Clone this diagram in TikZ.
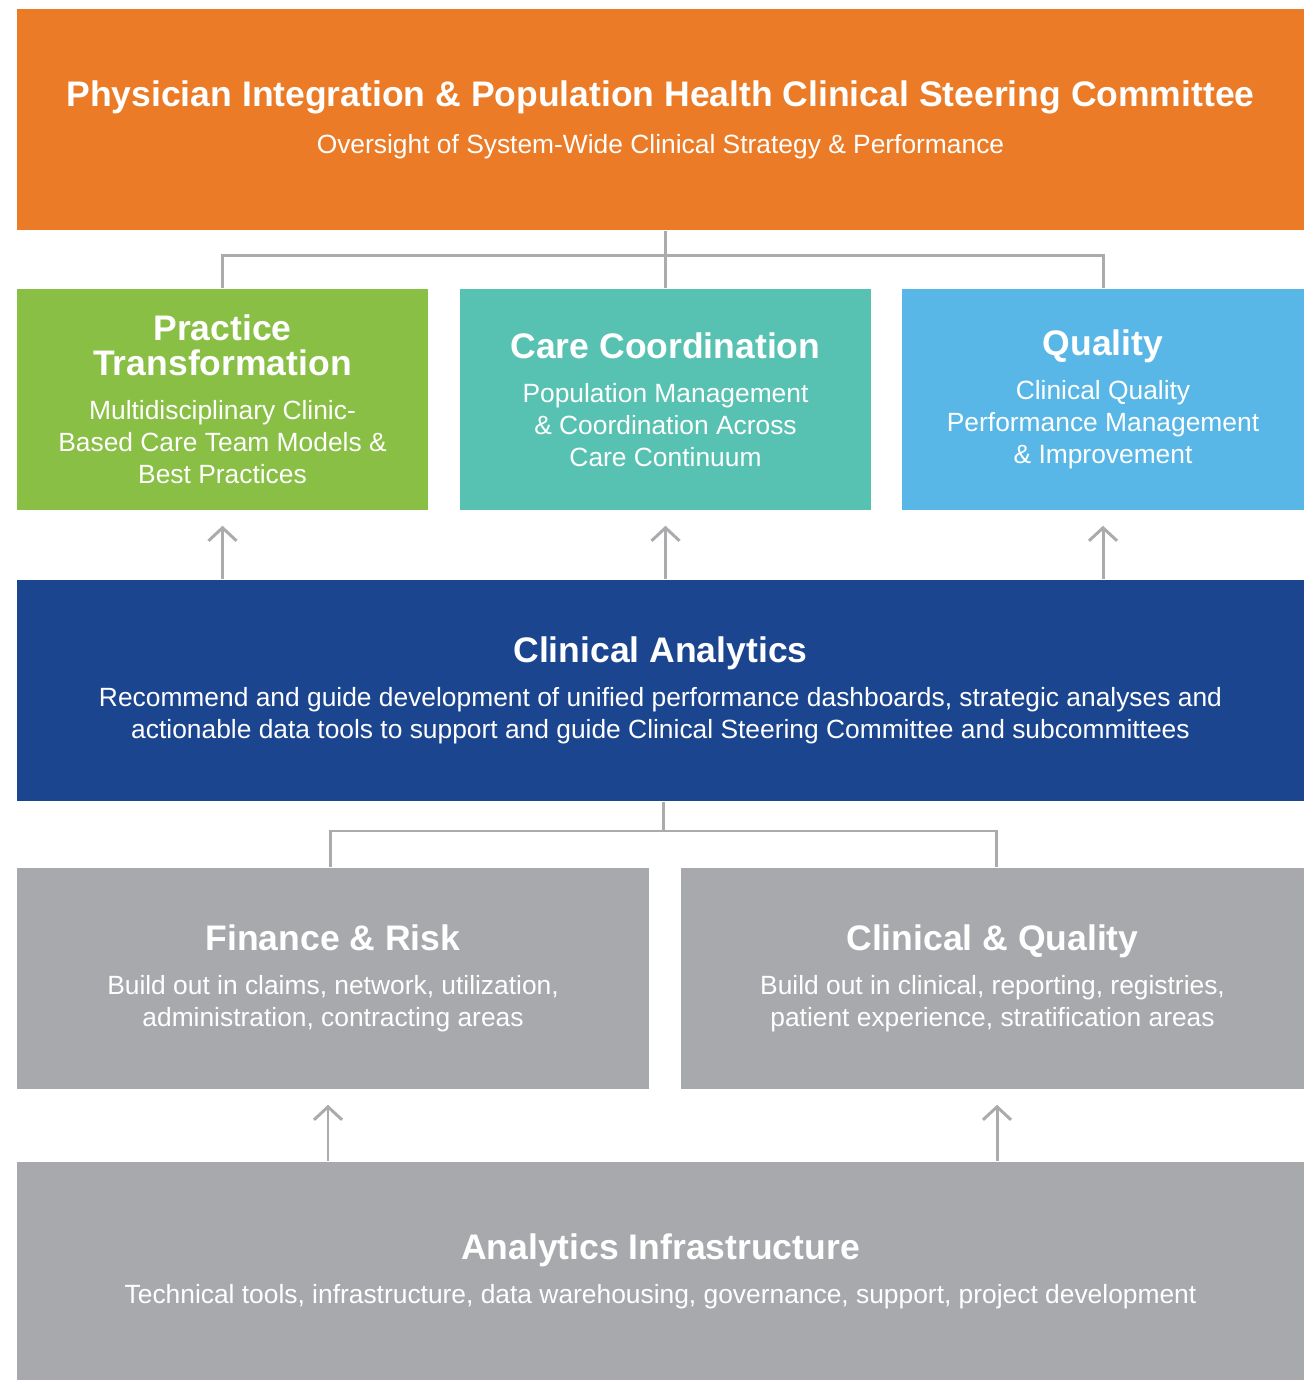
\documentclass[tikz,border=0pt]{standalone}
\usepackage{fontspec}
\setmainfont{Liberation Sans}
\usepackage{xcolor}
\usetikzlibrary{arrows.meta}
\definecolor{SteerOrange}{HTML}{EB7B26}
\definecolor{PracGreen}{HTML}{88BF44}
\definecolor{CareTeal}{HTML}{58C2B2}
\definecolor{QualBlue}{HTML}{58B7E6}
\definecolor{AnaNavy}{HTML}{1C4590}
\definecolor{InfraGrey}{HTML}{A8A9AD}
\definecolor{LinkGrey}{HTML}{ABABAE}
% one bold heading line of a panel
\newcommand{\hd}[1]{{\fontsize{10.1}{10}\selectfont\bfseries #1}}

\begin{document}
\begin{tikzpicture}[
  x=0.01cm, y=-0.01cm,
  panel/.style={rectangle, inner sep=0pt, minimum height=2.21cm,
                text=white, align=center,
                font=\fontsize{7.5}{9.1}\selectfont},
  link/.style={draw=LinkGrey, line width=0.85pt},
  up/.style={link, -{Straight Barb[length=1.3mm, width=2.8mm]},
             shorten >=0.15cm},
]
\useasboundingbox (0,0) rectangle (1304,1380);

%% ---- steering committee ----
\node[panel, fill=SteerOrange, minimum width=12.87cm] (steer) at (660.5,119.5)
  {\hd{Physician Integration \& Population Health Clinical Steering Committee}\\[4.3pt]
   Oversight of System-Wide Clinical Strategy \& Performance};

%% ---- subcommittees ----
\node[panel, fill=PracGreen, minimum width=4.11cm] (practice) at (222.5,399.5)
  {\hd{Practice}\\[0.9pt]\hd{Transformation}\\[3.4pt]
   Multidisciplinary Clinic-\\Based Care Team Models \&\\Best Practices};
\node[panel, fill=CareTeal, minimum width=4.11cm] (care) at (665.5,399.5)
  {\hd{Care Coordination}\\[3.4pt]
   Population Management\\\& Coordination Across\\Care Continuum};
\node[panel, fill=QualBlue, minimum width=4.02cm] (quality) at (1103,399.5)
  {\hd{Quality}\\[3.4pt]
   Clinical Quality\\Performance Management\\\& Improvement};

%% ---- analytics ----
\node[panel, fill=AnaNavy, minimum width=12.87cm] (analytics) at (660.5,690.5)
  {\hd{Clinical Analytics}\\[3.4pt]
   Recommend and guide development of unified performance dashboards, strategic analyses and\\
   actionable data tools to support and guide Clinical Steering Committee and subcommittees};

\node[panel, fill=InfraGrey, minimum width=6.32cm] (finance) at (333,978.5)
  {\hd{Finance \& Risk}\\[3.4pt]
   Build out in claims, network, utilization,\\administration, contracting areas};
\node[panel, fill=InfraGrey, minimum width=6.23cm] (clinqual) at (992.5,978.5)
  {\hd{Clinical \& Quality}\\[3.4pt]
   Build out in clinical, reporting, registries,\\patient experience, stratification areas};

\node[panel, fill=InfraGrey, minimum width=12.87cm, minimum height=2.18cm] (infra) at (660.5,1271)
  {\hd{Analytics Infrastructure}\\[3.4pt]
   Technical tools, infrastructure, data warehousing, governance, support, project development};

%% ---- connectors ----
\coordinate (topbus) at (665,256);
\coordinate (lowbus) at (663,831);
\draw[link] (care.north) -- (steer.south -| care.north);
\draw[link] (practice.north) |- (topbus) -| (quality.north);
\draw[link] (analytics.south -| lowbus) -- (lowbus);
\draw[link] ([xshift=-0.03cm]finance.north) |- (lowbus) -| ([xshift=0.035cm]clinqual.north);

\foreach \b in {practice, care, quality}
  \draw[up] (analytics.north -| \b.south) -- (\b.south);
\foreach \b/\dx in {finance/-0.05cm, clinqual/0.045cm}
  \draw[up] ([xshift=\dx]infra.north -| \b.south) -- ([xshift=\dx]\b.south);
\end{tikzpicture}
\end{document}
